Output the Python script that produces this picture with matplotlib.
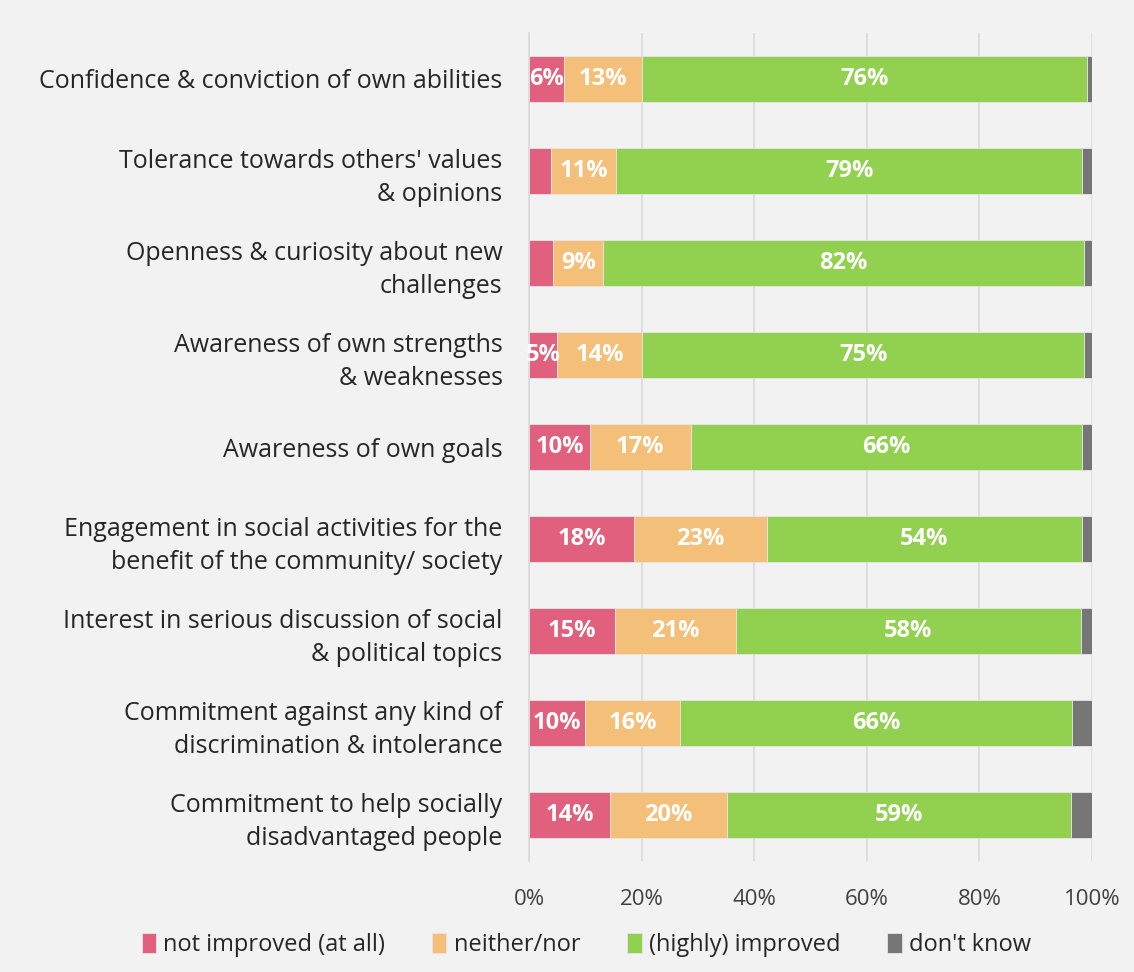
# Stacked horizontal bars: self-reported improvement by item

import numpy as np
from matplotlib import pyplot as plt

categories = [
    "Confidence & conviction of own abilities",
    "Tolerance towards others' values\n& opinions",
    "Openness & curiosity about new\nchallenges",
    "Awareness of own strengths\n& weaknesses",
    "Awareness of own goals",
    "Engagement in social activities for the\nbenefit of the community/ society",
    "Interest in serious discussion of social\n& political topics",
    "Commitment against any kind of\ndiscrimination & intolerance",
    "Commitment to help socially\ndisadvantaged people",
]

# bar lengths
not_improved = [6.3, 3.9, 4.3, 4.9, 10.8, 18.6, 15.2, 10.0, 14.4]
neither_nor = [13.7, 11.6, 8.9, 15.2, 17.9, 23.6, 21.6, 16.9, 20.8]
improved = [79.1, 82.7, 85.4, 78.5, 69.6, 56.0, 61.2, 69.5, 61.1]
dont_know = [0.9, 1.8, 1.4, 1.4, 1.7, 1.8, 2.0, 3.6, 3.7]

# printed labels
lab_not = ["6%", "", "", "5%", "10%", "18%", "15%", "10%", "14%"]
lab_neither = ["13%", "11%", "9%", "14%", "17%", "23%", "21%", "16%", "20%"]
lab_improved = ["76%", "79%", "82%", "75%", "66%", "54%", "58%", "66%", "59%"]

series = ["not improved (at all)", "neither/nor", "(highly) improved", "don't know"]
colors = ["#e0607e", "#f4bf78", "#92d050", "#767676"]

plt.rcParams['font.family'] = ['Open Sans', 'DejaVu Sans']
bg = "#f2f2f2"

fig = plt.figure(figsize=(11.34, 9.72), dpi=100, facecolor=bg)
ax = fig.add_axes([529 / 1134, 1 - 861 / 972, 563 / 1134, 828 / 972], facecolor=bg)

y = np.arange(len(categories))
data = [not_improved, neither_nor, improved, dont_know]
labels = [lab_not, lab_neither, lab_improved, None]
left = np.zeros(len(categories))
for vals, col, name, labs in zip(data, colors, series, labels):
    vals = np.array(vals)
    ax.barh(y, vals, left=left, height=0.5, color=col, label=name,
            edgecolor="#e6e6e6", linewidth=0.6, zorder=3)
    if labs is not None:
        for yi, (l, v, t) in enumerate(zip(left, vals, labs)):
            if t:
                ax.text(l + v / 2, yi, t, ha='center', va='center', color='white',
                        fontsize=17, fontweight='bold', zorder=4)
    left += vals

ax.set_xlim(0, 100)
ax.set_ylim(len(categories) - 0.5, -0.5)
ax.set_xticks(np.arange(0, 101, 20))
ax.set_xticklabels([f"{v}%" for v in range(0, 101, 20)], fontsize=16, color='#404040')
ax.set_yticks(y)
ax.set_yticklabels(categories, fontsize=18, color='#262626', linespacing=1.4)
ax.tick_params(axis='both', length=0)
ax.tick_params(axis='y', pad=19)
ax.tick_params(axis='x', pad=20)
ax.xaxis.grid(True, color='#d9d9d9', linewidth=1.2, zorder=0)
for s in ['top', 'right', 'bottom']:
    ax.spines[s].set_visible(False)
ax.spines['left'].set_color('#d9d9d9')
ax.spines['left'].set_linewidth(1.2)

fig.legend(loc='center', bbox_to_anchor=(0.517, 1 - 945 / 972), ncol=4, frameon=False,
           fontsize=17, handlelength=0.6, handleheight=0.9, handletextpad=0.3,
           columnspacing=2.0, labelcolor='#262626')

fig.savefig("out.png", dpi=100, facecolor=bg)
